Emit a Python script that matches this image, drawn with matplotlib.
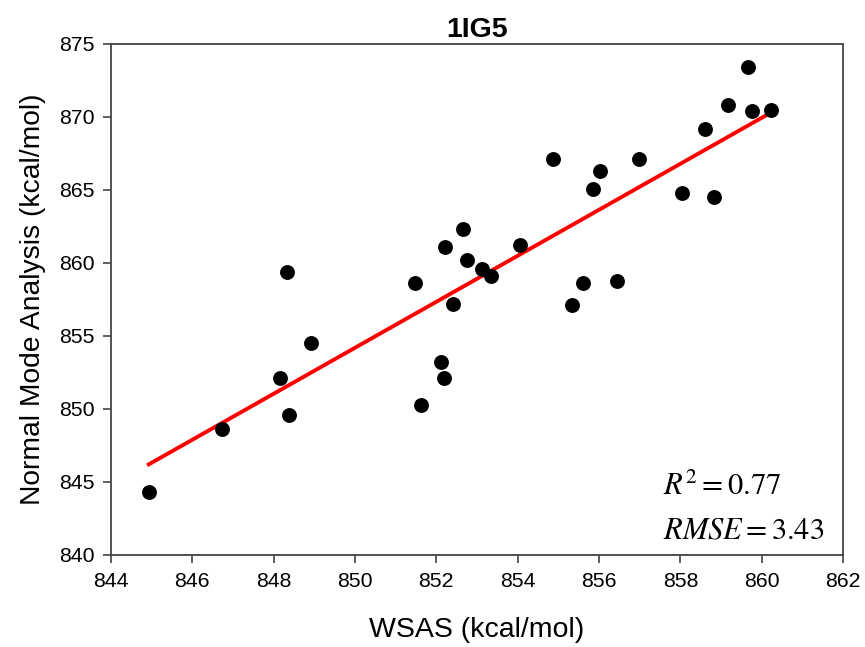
import numpy as np
import matplotlib
matplotlib.use('Agg')
import matplotlib.pyplot as plt

plt.rcParams['font.family'] = ['Liberation Sans', 'DejaVu Sans']
plt.rcParams['mathtext.fontset'] = 'stix'

# WSAS vs normal mode analysis energies (kcal/mol)
wsas = [844.93, 846.73, 848.16, 848.33, 848.38, 848.92, 851.47, 851.62,
        852.11, 852.19, 852.21, 852.41, 852.66, 852.75, 853.12, 853.34,
        854.06, 854.87, 855.33, 855.61, 855.85, 856.02, 856.44, 856.98,
        858.04, 858.61, 858.83, 859.17, 859.66, 859.76, 860.23]
nma = [844.3, 848.6, 852.1, 859.4, 849.6, 854.5, 858.6, 850.3,
       853.2, 852.1, 861.1, 857.2, 862.3, 860.2, 859.6, 859.1,
       861.2, 867.1, 857.1, 858.6, 865.1, 866.3, 858.8, 867.1,
       864.8, 869.2, 864.5, 870.8, 873.4, 870.4, 870.5]

x_ticks = np.arange(844, 863, 2)
y_ticks = np.arange(840, 876, 5)
r2 = 0.77
rmse = 3.43

fig = plt.figure(figsize=(8.65, 6.47), dpi=100)
ax = fig.add_axes([0.1283, 0.1422, 0.8463, 0.7898])

ax.scatter(wsas, nma, s=115, color='black', zorder=3, linewidths=0)

# least-squares fit line over the data range
slope, intercept = np.polyfit(wsas, nma, 1)
xs = np.array([min(wsas), max(wsas)])
ax.plot(xs, slope * xs + intercept, color='red', linewidth=2.8, zorder=2)

ax.set_xlim(844, 862)
ax.set_ylim(840, 875)
ax.set_xticks(x_ticks)
ax.set_yticks(y_ticks)
ax.tick_params(direction='out', length=6, width=1.2, color='#444444',
               labelsize=15.3, pad=6)

for sp in ax.spines.values():
    sp.set_color('#444444')
    sp.set_linewidth(1.3)

ax.set_xlabel('WSAS (kcal/mol)', fontsize=20.5, labelpad=19)
ax.set_ylabel('Normal Mode Analysis (kcal/mol)', fontsize=20.3, labelpad=9)
ax.set_title('1IG5', fontsize=20.5, fontweight='bold', pad=5)

ax.text(0.754, 0.117, r'$R^2 = %.2f$' % r2, transform=ax.transAxes,
        fontsize=22)
ax.text(0.754, 0.033, r'$RMSE = %.2f$' % rmse, transform=ax.transAxes,
        fontsize=22)

fig.savefig('out.png', dpi=100)
